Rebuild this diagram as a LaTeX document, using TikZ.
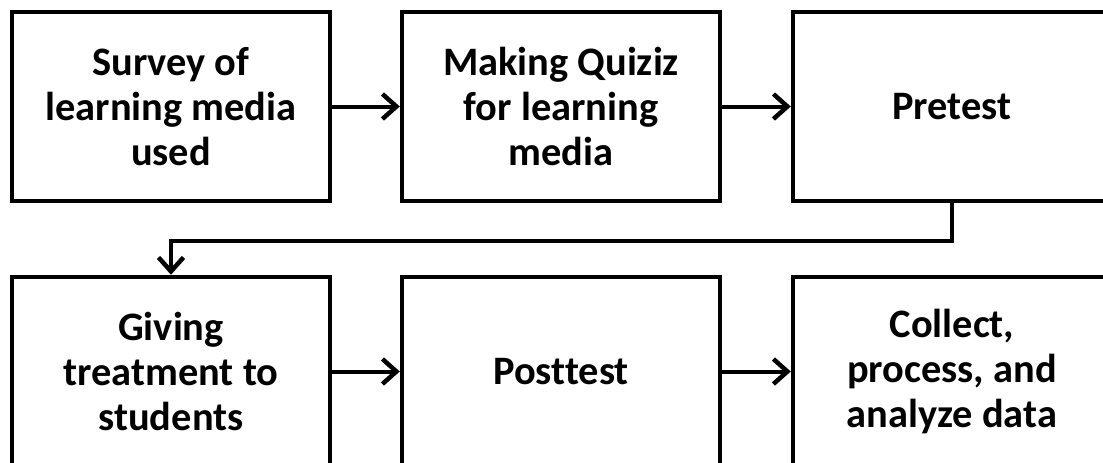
\documentclass[tikz,border=0pt]{standalone}
\usepackage{fontspec}
\setmainfont{Carlito}[Ligatures=NoCommon]
\usetikzlibrary{arrows.meta}

\begin{document}
\begin{tikzpicture}[x=0.02cm,y=-0.02cm,text centered,
    stage/.style={draw,line width=0.09cm,minimum width=6.36cm,minimum height=3.78cm,
      align=center,font=\fontsize{23}{25.6}\selectfont\bfseries},
    flow/.style={line width=0.08cm,-{Straight Barb[length=0.28cm,width=0.5cm,line width=0.09cm]}}]
  \useasboundingbox (0,0) rectangle (1103,463);
  \clip (0,0) rectangle (1103,463);

  \node (SURV) at (171,106.5) [stage] {Survey of\\learning media\\used};
  \node (QUIZ) at (561,106.5) [stage] {Making Quiziz\\for learning\\media};
  \node (PRET) at (952,106.5) [stage] {Pretest};

  \node (TREA) at (171,371.5) [stage] {Giving\\treatment to\\students};
  \node (POST) at (561,371.5) [stage] {Posttest};
  \node (DATA) at (952,371.5) [stage] {Collect,\\process, and\\analyze data};

  \draw[flow] (SURV) -- (QUIZ);
  \draw[flow] (QUIZ) -- (PRET);
  \draw[flow] (PRET.south) -- ++(0,38) -| (TREA.north);
  \draw[flow] (TREA) -- (POST);
  \draw[flow] (POST) -- (DATA);

\end{tikzpicture}
\end{document}
